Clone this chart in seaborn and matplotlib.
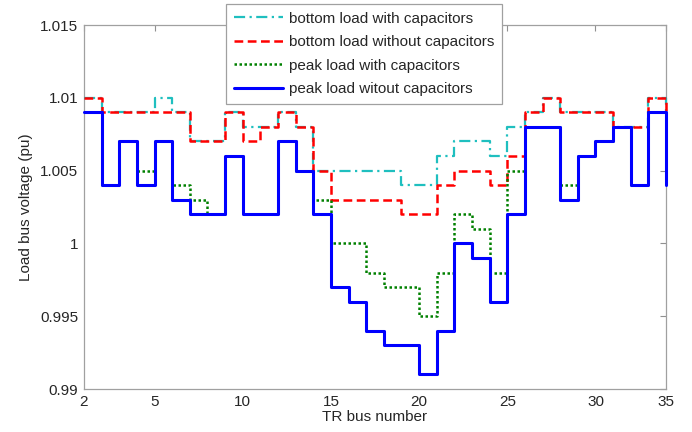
import matplotlib
matplotlib.use("Agg")
import matplotlib.pyplot as plt
import seaborn as sns
import numpy as np

# ---- data ----
bus_index = list(range(1, 35))   # plotted positions (34 transformer buses)
xtick_pos = [1, 5, 10, 15, 20, 25, 30, 34]
xtick_labels = ["2", "5", "10", "15", "20", "25", "30", "35"]
ytick_vals = [0.99, 0.995, 1.0, 1.005, 1.01, 1.015]
ytick_labels = ["0.99", "0.995", "1", "1.005", "1.01", "1.015"]

bottom_with = [1.010, 1.009, 1.009, 1.009, 1.010, 1.009, 1.007, 1.007, 1.009, 1.008,
               1.008, 1.009, 1.008, 1.005, 1.005, 1.005, 1.005, 1.005, 1.004, 1.004,
               1.006, 1.007, 1.007, 1.006, 1.008, 1.009, 1.010, 1.009, 1.009, 1.009,
               1.008, 1.008, 1.010, 1.009]
bottom_without = [1.010, 1.009, 1.009, 1.009, 1.009, 1.009, 1.007, 1.007, 1.009, 1.007,
                  1.008, 1.009, 1.008, 1.005, 1.003, 1.003, 1.003, 1.003, 1.002, 1.002,
                  1.004, 1.005, 1.005, 1.004, 1.006, 1.009, 1.010, 1.009, 1.009, 1.009,
                  1.008, 1.008, 1.010, 1.009]
peak_with = [1.009, 1.004, 1.007, 1.005, 1.007, 1.004, 1.003, 1.002, 1.006, 1.002,
             1.002, 1.007, 1.005, 1.003, 1.000, 1.000, 0.998, 0.997, 0.997, 0.995,
             0.998, 1.002, 1.001, 0.998, 1.005, 1.008, 1.008, 1.004, 1.006, 1.007,
             1.008, 1.004, 1.009, 1.004]
peak_without = [1.009, 1.004, 1.007, 1.004, 1.007, 1.003, 1.002, 1.002, 1.006, 1.002,
                1.002, 1.007, 1.005, 1.002, 0.997, 0.996, 0.994, 0.993, 0.993, 0.991,
                0.994, 1.000, 0.999, 0.996, 1.002, 1.008, 1.008, 1.003, 1.006, 1.007,
                1.008, 1.004, 1.009, 1.004]

labels = ["bottom load with capacitors", "bottom load without capacitors",
          "peak load with capacitors", "peak load witout capacitors"]

sns.set_style("white")
plt.rcParams['font.family'] = ['Liberation Sans', 'DejaVu Sans']

fig = plt.figure(figsize=(6.92, 4.32), dpi=100)
ax = fig.add_axes([84/692, 1-389/432, (666-84)/692, (389-25)/432])

styles = [
    dict(color="#1fbfbf", linestyle=(0, (5, 2, 1, 2)), linewidth=1.6),
    dict(color="#ff0000", linestyle=(0, (3.5, 1.8)), linewidth=1.8),
    dict(color="#008000", linestyle=(0, (1, 1)), linewidth=1.8),
    dict(color="#0000ff", linestyle="-", linewidth=2.2),
]
series = [bottom_with, bottom_without, peak_with, peak_without]
for i, (y, lab, st) in enumerate(zip(series, labels, styles)):
    sns.lineplot(x=bus_index, y=y, ax=ax, drawstyle="steps-post", label=lab,
                 estimator=None, clip_on=False, zorder=3 + i * 0.1, **st)

ax.set_xlim(1, 34)
ax.set_ylim(0.99, 1.015)
ax.set_xticks(xtick_pos)
ax.set_xticklabels(xtick_labels)
ax.set_yticks(ytick_vals)
ax.set_yticklabels(ytick_labels)
ax.tick_params(direction="in", length=4, width=0.8, color="#909090",
               top=True, right=True, labelsize=11, pad=4)
for s in ax.spines.values():
    s.set_color("#a0a0a0")
    s.set_linewidth(0.9)
ax.set_xlabel("TR bus number", fontsize=11, labelpad=1)
ax.set_ylabel("Load bus voltage (pu)", fontsize=11, labelpad=5)

leg = ax.legend(loc="upper left", bbox_to_anchor=(226/692, 1-4/432),
                bbox_transform=fig.transFigure, fontsize=11, frameon=True,
                fancybox=False, framealpha=1, edgecolor="#a0a0a0",
                handlelength=3.2, handletextpad=0.4, labelspacing=0.62,
                borderpad=0.5, borderaxespad=0)
leg.get_frame().set_linewidth(0.9)
leg.set_zorder(10)

fig.savefig("out.png", dpi=100)
